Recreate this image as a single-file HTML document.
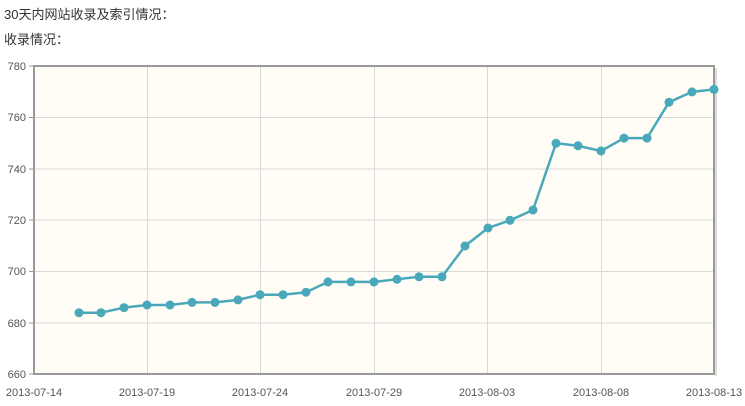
<!DOCTYPE html>
<html><head><meta charset="utf-8"><style>
body{margin:0;background:#fff;width:745px;height:406px;overflow:hidden;font-family:"Liberation Sans","Noto Sans CJK SC",sans-serif}
.t{position:absolute;left:4px;font-size:13px;color:#333}
</style></head><body>
<div class="t" style="top:4px">30天内网站收录及索引情况：</div>
<div class="t" style="top:29px">收录情况：</div>
<svg width="745" height="406" style="position:absolute;left:0;top:0" font-family="Liberation Sans, sans-serif" font-size="11" fill="#555">
<rect x="34" y="66" width="680" height="308" fill="#fffdf6"/>
<g stroke="#d8d8d8" stroke-width="1">
<line x1="34" x2="714" y1="117.5" y2="117.5"/><line x1="34" x2="714" y1="169" y2="169"/><line x1="34" x2="714" y1="220" y2="220"/><line x1="34" x2="714" y1="271.5" y2="271.5"/><line x1="34" x2="714" y1="323" y2="323"/>
<line x1="147.5" x2="147.5" y1="66" y2="374"/><line x1="260.5" x2="260.5" y1="66" y2="374"/><line x1="374.5" x2="374.5" y1="66" y2="374"/><line x1="487.5" x2="487.5" y1="66" y2="374"/><line x1="601.5" x2="601.5" y1="66" y2="374"/>
</g>
<rect x="34" y="66" width="680" height="308" fill="none" stroke="#999" stroke-width="2"/>
<line x1="716" y1="68" x2="716" y2="376" stroke="#ddd" stroke-width="2"/>
<g stroke="#999"><line x1="29" x2="34" y1="66" y2="66"/><line x1="29" x2="34" y1="117.5" y2="117.5"/><line x1="29" x2="34" y1="169" y2="169"/><line x1="29" x2="34" y1="220" y2="220"/><line x1="29" x2="34" y1="271.5" y2="271.5"/><line x1="29" x2="34" y1="323" y2="323"/><line x1="29" x2="34" y1="374" y2="374"/></g>
<g text-anchor="end"><text x="26" y="70">780</text><text x="26" y="121">760</text><text x="26" y="173">740</text><text x="26" y="224">720</text><text x="26" y="275">700</text><text x="26" y="327">680</text><text x="26" y="378">660</text></g>
<g text-anchor="middle"><text x="34" y="396">2013-07-14</text><text x="147" y="396">2013-07-19</text><text x="260" y="396">2013-07-24</text><text x="374" y="396">2013-07-29</text><text x="487" y="396">2013-08-03</text><text x="601" y="396">2013-08-08</text><text x="714" y="396">2013-08-13</text></g>
<polyline fill="none" stroke="#4aa8bb" stroke-width="2.5" stroke-linejoin="round" points="79,312.7 101,312.7 124,307.6 147,305 170,305 192,302.4 215,302.4 238,299.9 260,294.7 283,294.7 306,292.2 328,281.9 351,281.9 374,281.9 397,279.3 419,276.8 442,276.8 465,246 488,228 510,220.3 533,210 556,143.3 578,145.8 601,151 624,138.1 647,138.1 669,102.2 692,91.9 714,89.4"/>
<g fill="#4aa8bb">
<circle cx="79" cy="312.7" r="4.5"/><circle cx="101" cy="312.7" r="4.5"/><circle cx="124" cy="307.6" r="4.5"/><circle cx="147" cy="305" r="4.5"/><circle cx="170" cy="305" r="4.5"/><circle cx="192" cy="302.4" r="4.5"/><circle cx="215" cy="302.4" r="4.5"/><circle cx="238" cy="299.9" r="4.5"/><circle cx="260" cy="294.7" r="4.5"/><circle cx="283" cy="294.7" r="4.5"/><circle cx="306" cy="292.2" r="4.5"/><circle cx="328" cy="281.9" r="4.5"/><circle cx="351" cy="281.9" r="4.5"/><circle cx="374" cy="281.9" r="4.5"/><circle cx="397" cy="279.3" r="4.5"/><circle cx="419" cy="276.8" r="4.5"/><circle cx="442" cy="276.8" r="4.5"/><circle cx="465" cy="246" r="4.5"/><circle cx="488" cy="228" r="4.5"/><circle cx="510" cy="220.3" r="4.5"/><circle cx="533" cy="210" r="4.5"/><circle cx="556" cy="143.3" r="4.5"/><circle cx="578" cy="145.8" r="4.5"/><circle cx="601" cy="151" r="4.5"/><circle cx="624" cy="138.1" r="4.5"/><circle cx="647" cy="138.1" r="4.5"/><circle cx="669" cy="102.2" r="4.5"/><circle cx="692" cy="91.9" r="4.5"/><circle cx="714" cy="89.4" r="4.5"/>
</g>
</svg>
</body></html>
